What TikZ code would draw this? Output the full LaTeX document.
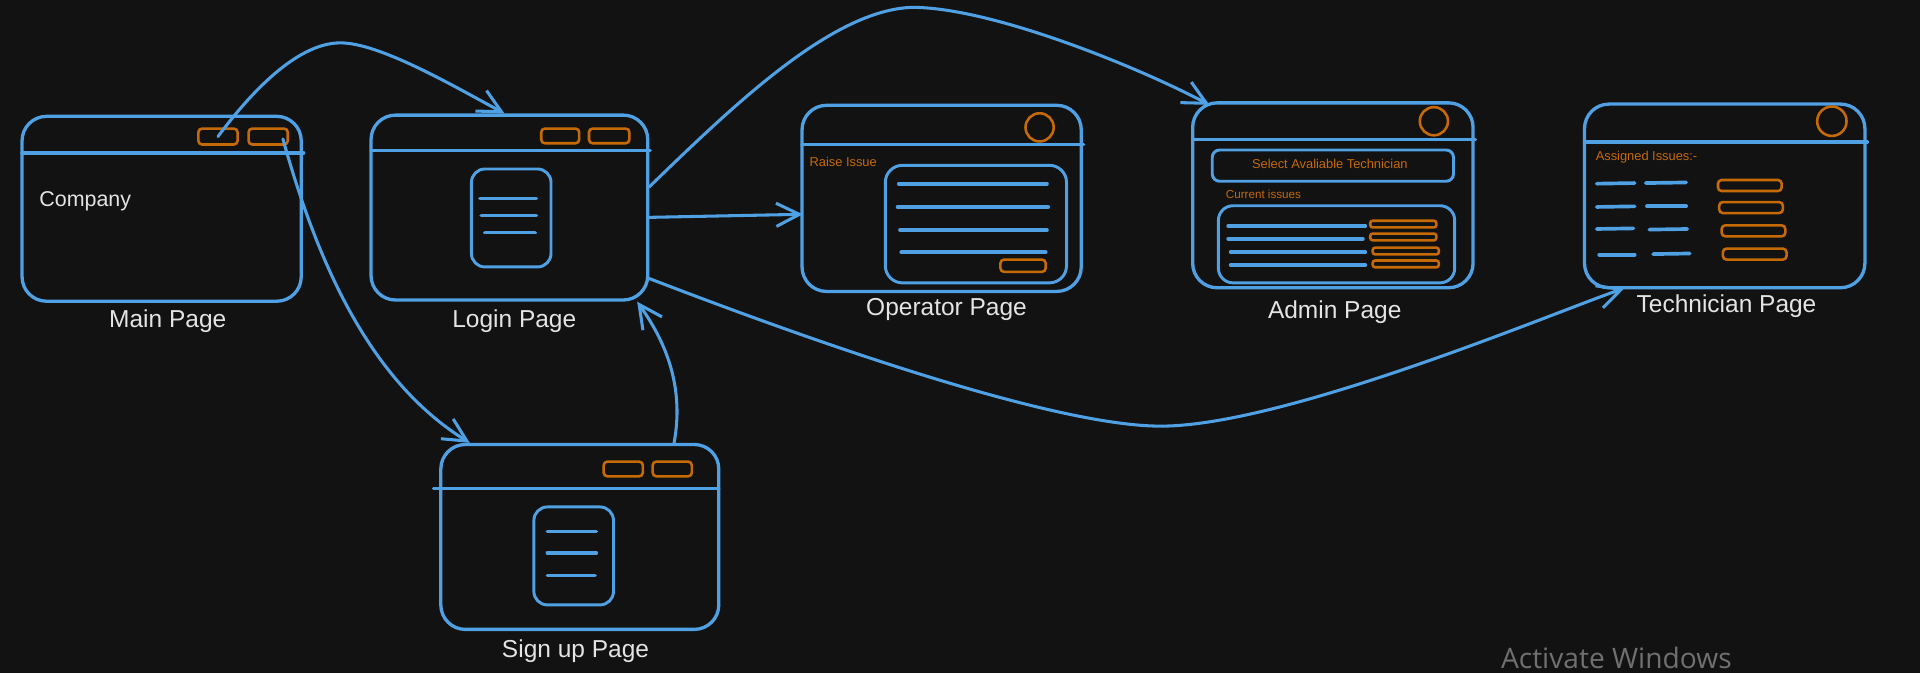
\documentclass[tikz,border=0pt]{standalone}
\usepackage{fontspec}
\setmainfont{Liberation Sans}
\newfontfamily\winfont{Open Sans}
\usetikzlibrary{arrows.meta}
\definecolor{bgc}{RGB}{18,18,18}
\definecolor{blu}{RGB}{80,160,228}
\definecolor{org}{RGB}{198,106,8}
\definecolor{lblc}{RGB}{228,228,228}
\definecolor{gry}{RGB}{112,112,112}
\tikzset{
  pagebox/.style={draw=blu, line width=2.7pt, rounded corners=20pt, rectangle, inner sep=0pt},
  inbox/.style={draw=blu, line width=2.4pt, rounded corners=11pt, rectangle, inner sep=0pt},
  btn/.style={draw=org, line width=2.1pt, rounded corners=3pt, rectangle, inner sep=0pt},
  hdr/.style={blu, line width=2.8pt, line cap=round},
  txl/.style={blu, line width=3pt, line cap=round},
  lbl/.style={text=lblc, inner sep=0pt, font=\fontsize{20}{24}\selectfont},
  otxt/.style={text=org, inner sep=0pt, font=\fontsize{10.5}{12}\selectfont},
  conn/.style={blu, line width=2.5pt, line cap=round, line join=round, -{Straight Barb[length=19pt,width=19pt]}},
  ring/.style={draw=org, circle, line width=2.1pt, inner sep=0pt, minimum size=23pt}
}
\begin{document}
\begin{tikzpicture}[x=1pt,y=1pt]
\fill[bgc] (0,0) rectangle (1568,-550);
\useasboundingbox (0,0) rectangle (1568,-550);

% ---------- Main page ----------
\node[pagebox, minimum width=228pt, minimum height=151pt] (main) at (132,-170.5) {};
\draw[hdr] (18,-125) -- (248,-125);
\node[btn, minimum width=32pt, minimum height=13pt] (mb1) at (178,-111.5) {};
\node[btn, minimum width=32pt, minimum height=13pt] (mb2) at (219,-111.5) {};
\node[lbl, anchor=west, font=\fontsize{17.5}{20}\selectfont] (company) at (32,-164) {Company};
\node[lbl] (mainlbl) at (137,-262) {Main Page};

% ---------- Login page ----------
\node[pagebox, minimum width=226pt, minimum height=151pt] (login) at (416,-169.5) {};
\draw[hdr] (303,-123) -- (531,-123);
\node[btn, minimum width=31pt, minimum height=12pt] (lb1) at (457.5,-111) {};
\node[btn, minimum width=33pt, minimum height=12pt] (lb2) at (497.5,-111) {};
\node[inbox, minimum width=65pt, minimum height=80pt] (loginform) at (417.5,-178) {};
\draw[txl] (392,-162) -- (438,-162);
\draw[txl] (393,-176) -- (438,-176);
\draw[txl] (396,-190) -- (437,-190);
\node[lbl] (loginlbl) at (420,-262) {Login Page};

% ---------- Operator page ----------
\node[pagebox, minimum width=228pt, minimum height=152pt] (operator) at (769,-162) {};
\draw[hdr] (655,-118) -- (885,-118);
\node[ring] (opring) at (849,-104) {};
\node[otxt, anchor=west] (raise) at (661,-132) {Raise Issue};
\node[inbox, rounded corners=14pt, minimum width=148pt, minimum height=96pt] (opform) at (797,-183) {};
\draw[txl] (734,-150) -- (855,-150);
\draw[txl] (733,-169) -- (856,-169);
\draw[txl] (735,-188) -- (855,-188);
\draw[txl] (736,-206) -- (854,-206);
\node[btn, minimum width=37pt, minimum height=10pt] (opbtn) at (835.5,-217) {};
\node[lbl] (oplbl) at (773,-253) {Operator Page};

% ---------- Admin page ----------
\node[pagebox, minimum width=229pt, minimum height=151pt] (admin) at (1088.5,-159.5) {};
\draw[hdr] (974,-114) -- (1205,-114);
\node[ring] (adring) at (1171,-99) {};
\node[inbox, rounded corners=6pt, minimum width=197pt, minimum height=25.5pt] (selbox) at (1088.5,-135.25) {};
\node[otxt] (seltxt) at (1086,-134) {Select Avaliable Technician};
\node[otxt, anchor=west, font=\fontsize{9.5}{11}\selectfont] (curr) at (1001,-159) {Current issues};
\node[inbox, rounded corners=12pt, minimum width=193pt, minimum height=63pt] (adlist) at (1091.5,-199.5) {};
\draw[txl] (1003,-184.5) -- (1115,-184.5);
\draw[txl] (1003,-195) -- (1113,-195);
\draw[txl] (1005,-206) -- (1115,-206);
\draw[txl] (1005,-216.5) -- (1115,-216.5);
\node[btn, rounded corners=2pt, minimum width=54pt, minimum height=5.5pt] (ar1) at (1146,-183) {};
\node[btn, rounded corners=2pt, minimum width=54pt, minimum height=5.5pt] (ar2) at (1146,-193.5) {};
\node[btn, rounded corners=2pt, minimum width=54pt, minimum height=5.5pt] (ar3) at (1148,-205) {};
\node[btn, rounded corners=2pt, minimum width=54pt, minimum height=5.5pt] (ar4) at (1148,-215.5) {};
\node[lbl] (adlbl) at (1090,-255) {Admin Page};

% ---------- Technician page ----------
\node[pagebox, minimum width=229pt, minimum height=150pt] (tech) at (1408.5,-160) {};
\draw[hdr] (1294,-116) -- (1525,-116);
\node[ring, minimum size=24pt] (tcring) at (1496,-99) {};
\node[otxt, anchor=west] (assigned) at (1303,-128) {Assigned Issues:-};
\draw[txl] (1304,-150) -- (1335,-149.5);
\draw[txl] (1344,-149.5) -- (1377,-149);
\draw[txl] (1304,-169) -- (1335,-168.5);
\draw[txl] (1345,-168.5) -- (1377,-168.5);
\draw[txl] (1304,-187) -- (1334,-186.5);
\draw[txl] (1347,-187.5) -- (1378,-187);
\draw[txl] (1306,-208) -- (1335,-208);
\draw[txl] (1350,-207.5) -- (1380,-207);
\node[btn, minimum width=52pt, minimum height=9pt] (tr1) at (1429,-151.5) {};
\node[btn, minimum width=52pt, minimum height=9pt] (tr2) at (1430,-169.5) {};
\node[btn, minimum width=52pt, minimum height=9pt] (tr3) at (1432,-188.5) {};
\node[btn, minimum width=52pt, minimum height=9pt] (tr4) at (1433,-207.5) {};
\node[lbl] (tclbl) at (1410,-250) {Technician Page};

% ---------- Sign up page ----------
\node[pagebox, minimum width=227pt, minimum height=151pt] (signup) at (473.5,-438.5) {};
\draw[hdr] (354,-399) -- (587,-399);
\node[btn, minimum width=32pt, minimum height=12pt] (sb1) at (509,-383) {};
\node[btn, minimum width=32pt, minimum height=12pt] (sb2) at (549,-383) {};
\node[inbox, minimum width=65pt, minimum height=80pt] (signform) at (468.5,-454) {};
\draw[txl] (447,-434) -- (487,-434);
\draw[txl] (447,-451.5) -- (487,-451.5);
\draw[txl] (447,-470) -- (486,-470);
\node[lbl] (signlbl) at (470,-532) {Sign up Page};

% ---------- watermark ----------
\node[text=gry, inner sep=0pt, font=\winfont\fontsize{23}{26}\selectfont] (activate) at (1320,-537) {Activate Windows};

% ---------- connectors ----------
\draw[conn] (mb1.center) .. controls (200,-82) and (240,-35) .. (278,-35)
            .. controls (310,-35) and (370,-70) .. ([xshift=-4pt]login.north);
\draw[conn] ([xshift=-5pt,yshift=-2pt]mb2.east) .. controls (258,-210) and (300,-310) .. ([xshift=25pt]signup.north west);
\draw[conn] ([xshift=77pt]signup.north) .. controls (560,-310) and (539,-273) .. ([xshift=-10pt]login.south east);
\draw[conn] ([yshift=-8pt]login.east) -- ([xshift=2pt,yshift=-13pt]operator.west);
\draw[conn] ([yshift=17pt]login.east) .. controls (600,-85) and (680,-8) .. (745,-6)
            .. controls (810,-6) and (930,-55) .. ([xshift=15pt,yshift=-3pt]admin.north west);
\draw[conn] ([yshift=-58pt]login.east) .. controls (620,-262) and (850,-348) .. (948,-348)
            .. controls (1050,-348) and (1272,-254) .. ([xshift=34pt,yshift=1pt]tech.south west);
\end{tikzpicture}
\end{document}
